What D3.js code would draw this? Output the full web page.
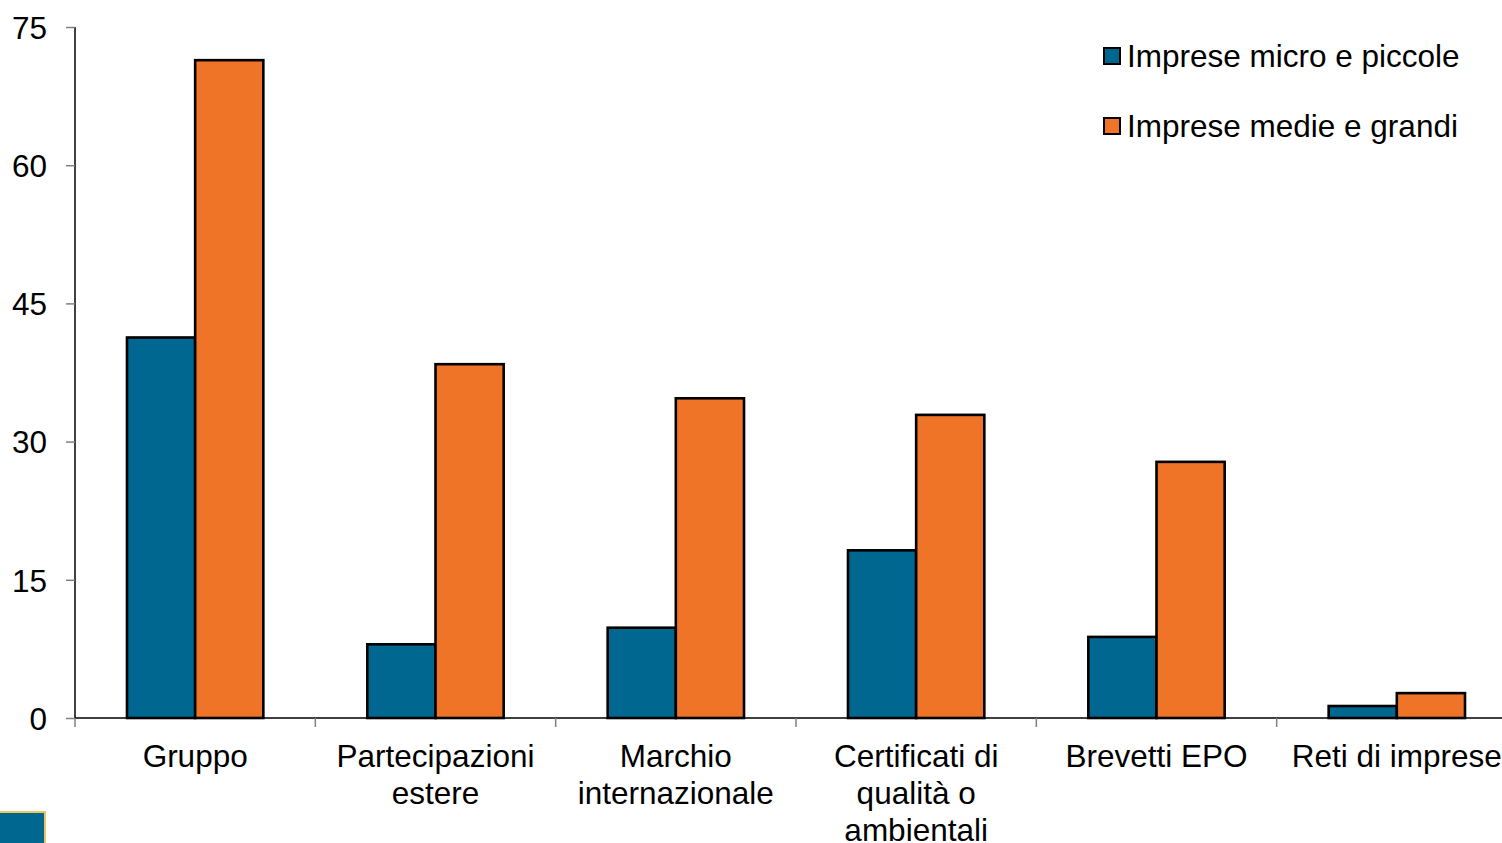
<!DOCTYPE html>
<html><head><meta charset="utf-8">
<script src="https://cdn.jsdelivr.net/npm/d3@7"></script>
<style>
html,body{margin:0;padding:0;background:#fff;overflow:hidden;}
svg{display:block;font-family:"Liberation Sans",Arial,sans-serif;}
</style></head>
<body>
<svg id="c" width="1502" height="843"></svg>
<script>
const categories = [["Gruppo"],["Partecipazioni","estere"],["Marchio","internazionale"],["Certificati di","qualità o","ambientali"],["Brevetti EPO"],["Reti di imprese"]];
const seriesNames = ["Imprese micro e piccole","Imprese medie e grandi"];
const microPiccole = [41.3, 8.0, 9.8, 18.2, 8.8, 1.3];
const medieGrandi = [71.4, 38.4, 34.7, 32.9, 27.8, 2.7];
const yTicks = [0,15,30,45,60,75];
const colors = ["#006890","#F07427"];

const FS = 31.5;
const svg = d3.select("#c");
const x0 = 75, plotRight = 1517, yTop = 27, yBot = 718;
const catIdx = categories.map((d,i)=>i);
const x = d3.scaleBand().domain(catIdx).range([x0, plotRight]).paddingInner(0).paddingOuter(0);
const inner = d3.scaleBand().domain([0,1]).range([52, x.bandwidth()-52]);
const y = d3.scaleLinear().domain([0,75]).range([yBot, yTop]);

// bars
const series = [microPiccole, medieGrandi];
series.forEach((vals, s) => {
  svg.append("g").selectAll("rect").data(vals).join("rect")
    .attr("x", (d,i)=> x(i) + inner(s))
    .attr("y", d => y(d))
    .attr("width", inner.bandwidth())
    .attr("height", d => y(0) - y(d))
    .attr("fill", colors[s])
    .attr("stroke", "#000")
    .attr("stroke-width", 2.6);
});

// y axis
const yAxis = d3.axisLeft(y).tickValues(yTicks).tickSize(9).tickPadding(19);
const gy = svg.append("g").attr("transform", `translate(${x0},0)`).call(yAxis);
gy.select(".domain").attr("stroke","#000").attr("stroke-width",1.5).attr("d",`M0,${yTop}V${yBot}`);
gy.selectAll(".tick line").attr("stroke","#808080").attr("stroke-width",1.5);
gy.selectAll(".tick text").attr("font-size",FS).attr("fill","#000").attr("font-family","Liberation Sans, Arial, sans-serif").attr("dy","0.36em");

// x axis line and ticks
svg.append("line").attr("x1",x0).attr("x2",1502).attr("y1",yBot).attr("y2",yBot).attr("stroke","#000").attr("stroke-width",1.5);
svg.append("g").selectAll("line").data(catIdx).join("line")
  .attr("x1", i=>x(i)).attr("x2", i=>x(i)).attr("y1", yBot).attr("y2", yBot+9)
  .attr("stroke","#808080").attr("stroke-width",1.5);

// category labels
const lab = svg.append("g").selectAll("text").data(categories).join("text")
  .attr("x",(d,i)=> x(i)+x.bandwidth()/2)
  .attr("y", 756)
  .attr("text-anchor","middle")
  .attr("font-size",FS).attr("fill","#000");
lab.each(function(d){
  const t = d3.select(this);
  d.forEach((line,k)=>{
    t.append("tspan").attr("x", t.attr("x")).attr("y", 756 + k*37).attr("dy","0.36em").text(line);
  });
});

// legend
const leg = svg.append("g");
seriesNames.forEach((n,s)=>{
  const cy = 56 + s*70;
  leg.append("rect").attr("x",1104).attr("y",cy-8).attr("width",16).attr("height",16)
    .attr("fill",colors[s]).attr("stroke","#000").attr("stroke-width",2);
  leg.append("text").attr("x",1127).attr("y",cy).attr("dy","0.36em").attr("font-size",FS).attr("fill","#000").text(n);
});

// decorative corner block
svg.append("rect").attr("x",-2).attr("y",812).attr("width",47).attr("height",40)
  .attr("fill","#006890").attr("stroke","#E8C85A").attr("stroke-width",2);
</script>
</body></html>
